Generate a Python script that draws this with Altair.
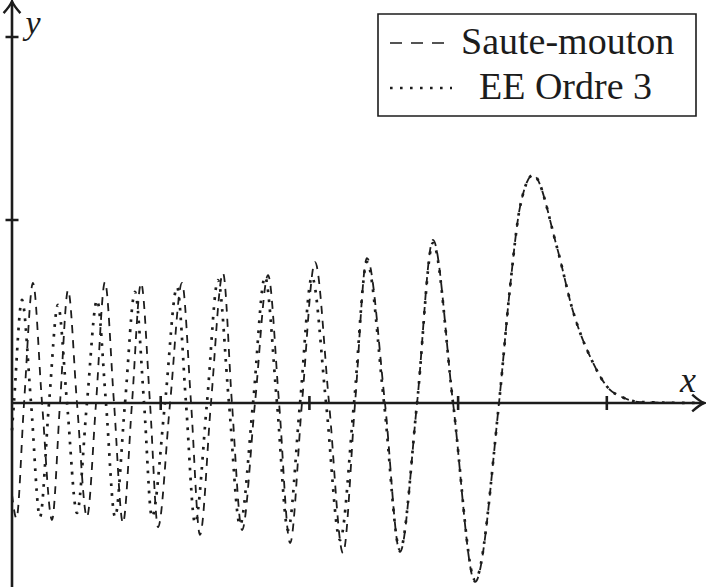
import altair as alt
import pandas as pd

# Saute-mouton (leapfrog) solution
sm_x = [0.000, 0.030, 0.081, 0.141, 0.202, 0.269, 0.323, 0.377, 0.437, 0.504,
        0.565, 0.625, 0.686, 0.746, 0.807, 0.868, 0.928, 0.982, 1.063, 1.143,
        1.204, 1.264, 1.338, 1.419, 1.479, 1.547, 1.634, 1.722, 1.796, 1.870,
        1.950, 2.038, 2.132, 2.226, 2.307, 2.387, 2.508, 2.609, 2.724, 2.831,
        2.966, 3.114, 3.275, 3.349, 3.416, 3.504, 3.665, 3.773, 3.907, 4.001,
        4.109, 4.223, 4.627]
sm_y = [-0.50, -0.63, 0.0, 0.656, 0.0, -0.639, 0.0, 0.617, 0.0, -0.623,
        0.0, 0.661, 0.0, -0.656, 0.0, 0.656, 0.0, -0.678, 0.0, 0.656,
        0.0, -0.721, 0.0, 0.710, 0.0, -0.694, 0.0, 0.699, 0.0, -0.765,
        0.0, 0.770, 0.0, -0.820, 0.0, 0.792, 0.0, -0.814, 0.0, 0.891,
        0.0, -0.978, 0.0, 0.63, 1.07, 1.246, 0.85, 0.50, 0.22, 0.09,
        0.03, 0.005, 0.0]

# Explicit Euler, order 3
ee_x = [0.000, 0.013, 0.067, 0.128, 0.188, 0.249, 0.309, 0.370, 0.437, 0.504,
        0.572, 0.632, 0.693, 0.760, 0.827, 0.888, 0.941, 1.029, 1.110, 1.170,
        1.231, 1.311, 1.385, 1.459, 1.533, 1.621, 1.701, 1.782, 1.856, 1.937,
        2.017, 2.112, 2.206, 2.300, 2.387, 2.502, 2.609, 2.724, 2.831, 2.966,
        3.114, 3.275, 3.349, 3.416, 3.504, 3.665, 3.773, 3.907, 4.001, 4.109,
        4.223, 4.627]
ee_y = [-0.15, 0.0, 0.563, 0.0, -0.623, 0.0, 0.536, 0.0, -0.601, 0.0,
        0.563, 0.0, -0.623, 0.0, 0.607, 0.0, -0.623, 0.0, 0.634, 0.0,
        -0.656, 0.0, 0.672, 0.0, -0.667, 0.0, 0.689, 0.0, -0.694, 0.0,
        0.689, 0.0, -0.749, 0.0, 0.770, 0.0, -0.803, 0.0, 0.874, 0.0,
        -0.967, 0.0, 0.63, 1.07, 1.246, 0.85, 0.50, 0.22, 0.09, 0.03,
        0.005, 0.0]

x_ticks = [1, 2, 3, 4]
y_ticks = [1, 2]
series_names = ["Saute-mouton", "EE Ordre 3"]

W, H = 706, 587
X_DOMAIN = [-0.0807, 4.667]
Y_DOMAIN = [-1.0055, 2.2022]
INK = "#1c1c1c"
SERIF = "Liberation Serif"

xs = alt.Scale(domain=X_DOMAIN, nice=False, zero=False)
ys = alt.Scale(domain=Y_DOMAIN, nice=False, zero=False)

sm = pd.DataFrame({"x": sm_x, "y": sm_y})
ee = pd.DataFrame({"x": ee_x, "y": ee_y})

def curve(df, dash, width):
    return alt.Chart(df).mark_line(
        interpolate="monotone", strokeDash=dash, strokeWidth=width,
        color=INK, strokeCap="butt", clip=True
    ).encode(
        x=alt.X("x:Q", scale=xs, axis=None),
        y=alt.Y("y:Q", scale=ys, axis=None),
    )

dashed = curve(sm, [8, 7], 1.8)
dotted = curve(ee, [2.7, 7.3], 2.7)

# axes drawn through the origin
base = alt.Chart(pd.DataFrame({"o": [0]}))
x_axis = base.mark_rule(strokeWidth=2.6, color=INK).encode(
    x=alt.datum(0, scale=xs), x2=alt.datum(4.650),
    y=alt.datum(0, scale=ys),
)
y_axis = base.mark_rule(strokeWidth=2.6, color=INK).encode(
    x=alt.datum(0, scale=xs),
    y=alt.datum(Y_DOMAIN[0], scale=ys), y2=alt.datum(2.190),
)

ARROW = "M -1 -0.7 Q -0.35 -0.12 0 0 Q -0.35 0.12 -1 0.7"
x_head = base.mark_point(shape=ARROW, size=576, filled=False,
                         strokeWidth=2.4, color=INK, opacity=1).encode(
    x=alt.datum(4.655, scale=xs), y=alt.datum(0, scale=ys),
)
y_head = base.mark_point(shape=ARROW, size=576, filled=False, angle=270,
                         strokeWidth=2.4, color=INK, opacity=1).encode(
    x=alt.datum(0, scale=xs), y=alt.datum(2.196, scale=ys),
)

xt = alt.Chart(pd.DataFrame({"t": x_ticks})).mark_tick(
    orient="vertical", size=14, thickness=2.6, color=INK, opacity=1
).encode(x=alt.X("t:Q", scale=xs), y=alt.datum(0, scale=ys))
yt = alt.Chart(pd.DataFrame({"t": y_ticks})).mark_tick(
    orient="horizontal", size=13, thickness=2.6, color=INK, opacity=1
).encode(y=alt.Y("t:Q", scale=ys), x=alt.datum(0, scale=xs))

x_lab = base.mark_text(text="x", font=SERIF, fontStyle="italic", fontSize=36,
                       color=INK, align="center", baseline="alphabetic").encode(
    x=alt.value(688), y=alt.value(392))
y_lab = base.mark_text(text="y", font=SERIF, fontStyle="italic", fontSize=34,
                       color=INK, align="center", baseline="alphabetic").encode(
    x=alt.value(33), y=alt.value(34))

# legend box
box = base.mark_rect(fill="white", stroke=INK, strokeWidth=1.6).encode(
    x=alt.value(378), x2=alt.value(696), y=alt.value(14), y2=alt.value(116))
leg_dash = base.mark_rule(strokeDash=[12, 9], strokeWidth=1.7, color=INK).encode(
    x=alt.value(390), x2=alt.value(446), y=alt.value(43))
leg_dot = base.mark_rule(strokeDash=[2.6, 7.4], strokeWidth=2.6, color=INK).encode(
    x=alt.value(390), x2=alt.value(452), y=alt.value(88))
leg_t1 = base.mark_text(text=series_names[0], font=SERIF, fontSize=38, color=INK,
                        align="left", baseline="alphabetic").encode(
    x=alt.value(461), y=alt.value(54))
leg_t2 = base.mark_text(text=series_names[1], font=SERIF, fontSize=38, color=INK,
                        align="left", baseline="alphabetic").encode(
    x=alt.value(479), y=alt.value(99))

chart = alt.layer(
    dashed, dotted, x_axis, y_axis, xt, yt, x_head, y_head, x_lab, y_lab,
    box, leg_dash, leg_dot, leg_t1, leg_t2,
).properties(
    width=W, height=H, padding=0, autosize=alt.AutoSizeParams(type="none"),
    background="white",
).configure_view(stroke=None)

chart.save("out.html", embed_options={"renderer": "svg", "actions": False})
